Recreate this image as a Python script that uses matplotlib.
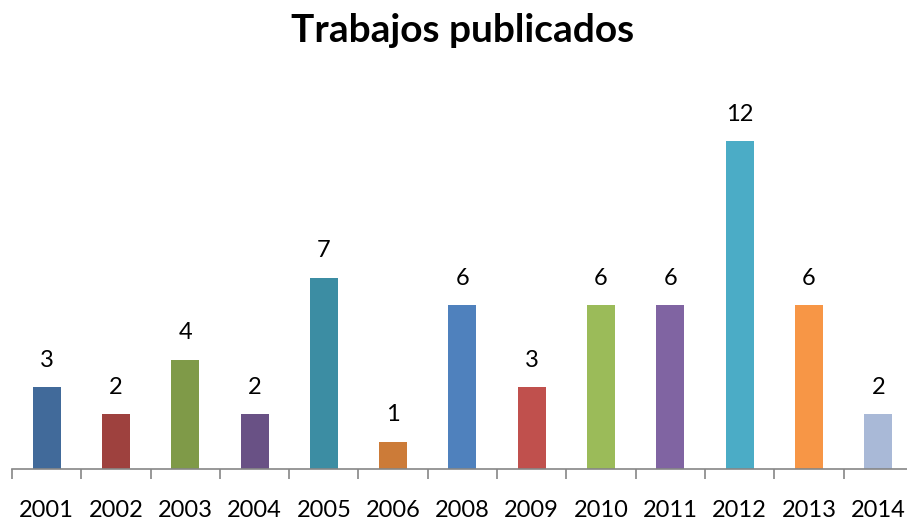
import matplotlib
matplotlib.use("Agg")
import matplotlib.pyplot as plt
import numpy as np

years = ["2001", "2002", "2003", "2004", "2005", "2006", "2008", "2009",
         "2010", "2011", "2012", "2013", "2014"]
values = [3, 2, 4, 2, 7, 1, 6, 3, 6, 6, 12, 6, 2]
colors = ["#416A9A", "#9E413E", "#7F9A48", "#695185", "#3C8DA3", "#CC7B38",
          "#4F81BD", "#C0504D", "#9BBB59", "#8064A2", "#4BACC6", "#F79646",
          "#A9B9D7"]

plt.rcParams['font.family'] = ['Lato', 'DejaVu Sans']

W, H = 907, 522
fig = plt.figure(figsize=(W / 100, H / 100), dpi=100)
n = len(years)
step = 69.3
x0 = 12
axis_y = 469
ppu = 27.33
ymax = 13
ax = fig.add_axes([x0 / W, (H - axis_y) / H, n * step / W, ymax * ppu / H])

x = np.arange(n)
ax.bar(x, values, width=28 / step, color=colors, zorder=2)
for xi, v in zip(x, values):
    ax.text(xi, v + 0.6, str(v), ha='center', va='bottom', fontsize=17,
            color='black', clip_on=False)

ax.set_xlim(-0.5, n - 0.5)
ax.set_ylim(0, ymax)
for s in ['top', 'right', 'left']:
    ax.spines[s].set_visible(False)
ax.spines['bottom'].set_color('#868686')
ax.spines['bottom'].set_linewidth(1.2)
ax.set_yticks([])
ax.set_xticks(x)
ax.set_xticklabels(years, fontsize=17)
ax.tick_params(axis='x', which='major', length=0, pad=22)
ax.set_xticks(np.arange(n + 1) - 0.5, minor=True)
ax.tick_params(axis='x', which='minor', length=7, width=1.2, color='#868686')

fig.text(463 / W, 1 - 30 / H, "Trabajos publicados", ha='center', va='center',
         fontsize=28, fontweight='bold')

fig.savefig("out.png", dpi=100)
